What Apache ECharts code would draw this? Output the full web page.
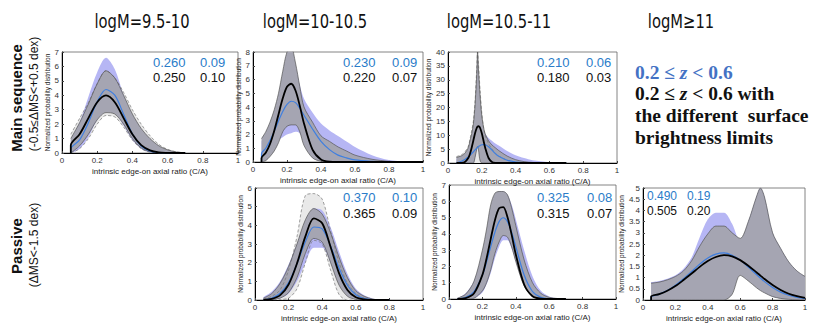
<!DOCTYPE html>
<html>
<head>
<meta charset="utf-8">
<script src="https://cdn.jsdelivr.net/npm/echarts@6.0.0/dist/echarts.min.js"></script>
<style>
    html, body { margin: 0; padding: 0; background: #fff; }
    #main { width: 830px; height: 323px; }
</style>
</head>
<body>
<div id="main"></div>
<script>
// column / row headings and the little numbers in each panel
const columnTitles = ['logM=9.5-10', 'logM=10-10.5', 'logM=10.5-11', 'logM≥11']
const rowTitles = ['Main sequence', 'Passive']
const rowSubTitles = ['(-0.5≤ΔMS<+0.5 dex)', '(ΔMS<-1.5 dex)']
const blueMean = ['0.260', '0.230', '0.210', '0.370', '0.325', '0.490']
const blueWidth = ['0.09', '0.09', '0.06', '0.10', '0.08', '0.19']
const blackMean = ['0.250', '0.220', '0.180', '0.365', '0.315', '0.505']
const blackWidth = ['0.10', '0.07', '0.03', '0.09', '0.07', '0.20']
const yMax = [7, 8, 40, 6, 7, 5]
const yStep = [1, 1, 5, 1, 1, 0.5]

// panel 1 : MS, 9.5-10
const xP1 = [0.05, 0.1, 0.15, 0.2, 0.25, 0.3, 0.35, 0.4, 0.45, 0.5, 0.55, 0.6, 0.65, 0.7]
const p1Black = [0.54, 1.30, 2.42, 3.52, 3.99, 3.52, 2.42, 1.30, 0.54, 0.18, 0.04, 0.01, 0, 0]
const p1Blue = [0.29, 0.91, 2.10, 3.55, 4.40, 4.01, 2.69, 1.32, 0.48, 0.13, 0.03, 0, 0, 0]
const p1DarkLo = [0, 0.5, 1.3, 2.3, 2.8, 2.7, 2.0, 1.0, 0.35, 0.08, 0, 0, 0, 0]
const p1DarkHi = [1.0, 2.1, 3.4, 4.8, 5.7, 5.2, 4.0, 2.7, 1.7, 1.0, 0.5, 0.22, 0.07, 0.01]
const p1BlueLo = [0, 0.3, 1.1, 2.3, 2.9, 2.8, 1.9, 0.9, 0.3, 0.05, 0, 0, 0, 0]
const p1BlueHi = [0.9, 2.1, 3.9, 5.6, 6.6, 5.8, 4.0, 2.4, 1.2, 0.5, 0.2, 0.05, 0, 0]
const p1LightLo = [0, 0.3, 1.0, 2.0, 2.6, 2.5, 1.8, 0.9, 0.3, 0.05, 0, 0, 0, 0]
const p1LightHi = [1.3, 2.4, 3.5, 4.8, 5.7, 5.2, 4.2, 3.0, 2.0, 1.2, 0.6, 0.25, 0.08, 0.02]

// panel 2 : MS, 10-10.5
const xP2 = [0.05, 0.075, 0.1, 0.125, 0.15, 0.175, 0.2, 0.225, 0.25, 0.275, 0.3, 0.35, 0.4, 0.45, 0.5, 0.55, 0.6, 0.7, 0.8, 0.9, 1.0]
const p2Black = [0.3, 0.67, 1.31, 2.27, 3.46, 4.63, 5.47, 5.69, 5.2, 4.1, 2.8, 0.9, 0.18, 0.02, 0, 0, 0, 0, 0, 0, 0]
const p2Blue = [0.6, 1.0, 1.56, 2.24, 2.98, 3.68, 4.19, 4.42, 4.32, 3.91, 3.4, 2.4, 1.5, 0.9, 0.5, 0.3, 0.15, 0.05, 0, 0, 0]
const p2DarkLo = [0, 0.1, 0.4, 0.8, 1.4, 2.2, 2.6, 2.7, 2.7, 2.2, 1.2, 0.3, 0.05, 0, 0, 0, 0, 0, 0, 0, 0]
const p2DarkHi = [1.7, 2.2, 2.9, 3.8, 5.0, 6.6, 8.0, 8.3, 7.2, 5.5, 4.0, 2.9, 1.9, 1.5, 1.1, 0.8, 0.5, 0.2, 0.05, 0, 0]
const p2BlueLo = [0.2, 0.5, 0.9, 1.3, 1.6, 1.8, 2.0, 2.1, 2.2, 2.1, 1.6, 1.0, 0.5, 0.25, 0.1, 0.05, 0, 0, 0, 0, 0]
const p2BlueHi = [1.5, 2.0, 2.7, 3.6, 4.8, 6.3, 7.6, 8.0, 7.0, 5.6, 4.6, 3.6, 2.8, 2.3, 1.9, 1.5, 1.1, 0.5, 0.15, 0.05, 0]

// panel 3 : MS, 10.5-11
const xP3 = [0.05, 0.08, 0.1, 0.12, 0.13, 0.14, 0.15, 0.16, 0.17, 0.175, 0.18, 0.185, 0.19, 0.2, 0.21, 0.22, 0.24, 0.26, 0.28, 0.3, 0.35, 0.4, 0.45, 0.5, 0.6, 0.7]
const p3Black = [0, 0.05, 0.38, 1.8, 3.3, 5.5, 8.1, 10.7, 12.6, 13.1, 13.3, 13.1, 12.6, 10.7, 8.1, 5.5, 1.8, 0.38, 0.05, 0, 0, 0, 0, 0, 0, 0]
const p3Blue = [0.19, 0.64, 1.24, 2.16, 2.73, 3.37, 4.03, 4.70, 5.32, 5.61, 5.87, 6.10, 6.29, 6.56, 6.65, 6.56, 5.87, 4.70, 3.37, 2.4, 1.0, 0.35, 0.1, 0, 0, 0]
const p3DarkLo = [0, 0, 0, 0, 0, 0, 0, 2, 5, 6, 5, 2.5, 0.8, 0, 0, 0, 0, 0, 0, 0, 0, 0, 0, 0, 0, 0]
const p3DarkHi = [2.0, 2.6, 3.5, 5.5, 8, 10.5, 14, 21, 32, 40, 34, 29, 24, 17, 13, 10.5, 8, 6.5, 5.5, 4.5, 2.5, 1.2, 0.5, 0.2, 0, 0]
const p3BlueLo = [0, 0, 0, 0, 0, 0, 0, 2, 5, 6.5, 5.5, 4, 3, 1, 0, 0, 0, 0, 0, 0, 0, 0, 0, 0, 0, 0]
const p3BlueHi = [1.5, 2.4, 3.2, 5, 6.5, 8, 10, 13, 16, 17, 17, 16, 15, 13, 11.5, 10.5, 9, 8, 7, 6.3, 4.3, 2.8, 1.8, 1.0, 0.3, 0]
const p3LightHi = [2.3, 3, 4, 6, 8.5, 11.5, 15, 22, 34, 40, 36, 31, 26, 18, 13, 10, 7, 5, 3.5, 2.5, 1, 0.3, 0.1, 0, 0, 0]

// panel 5 : passive, 10-10.5
const xP5 = [0.05, 0.1, 0.15, 0.2, 0.25, 0.3, 0.35, 0.4, 0.45, 0.5, 0.55, 0.6, 0.65, 0.7, 0.75, 0.8]
const p5Black = [0.01, 0.06, 0.26, 0.83, 1.96, 3.41, 4.37, 4.11, 2.84, 1.44, 0.54, 0.15, 0.03, 0, 0, 0]
const p5Blue = [0.02, 0.1, 0.36, 0.94, 1.94, 3.12, 3.91, 3.81, 2.90, 1.71, 0.79, 0.28, 0.08, 0.02, 0, 0]
const p5DarkLo = [0, 0.02, 0.1, 0.4, 1.2, 2.5, 3.3, 3.1, 2.0, 0.8, 0.2, 0.03, 0, 0, 0, 0]
const p5DarkHi = [0.1, 0.35, 0.9, 1.8, 3.0, 4.3, 4.9, 4.6, 3.6, 2.3, 1.2, 0.5, 0.2, 0.05, 0, 0]
const p5BlueLo = [0, 0.02, 0.1, 0.35, 1.0, 2.0, 2.8, 2.8, 2.0, 0.9, 0.3, 0.08, 0, 0, 0, 0]
const p5BlueHi = [0.15, 0.45, 1.0, 1.9, 3.0, 4.1, 4.9, 4.8, 3.9, 2.6, 1.4, 0.6, 0.25, 0.08, 0.02, 0]
const p5LightLo = [0, 0, 0.02, 0.1, 0.6, 2.0, 3.2, 3.0, 1.6, 0.3, 0, 0, 0, 0, 0, 0]
const p5LightHi = [0.05, 0.2, 0.55, 1.6, 3.4, 5.6, 5.7, 5.4, 3.7, 2.0, 0.9, 0.35, 0.1, 0.03, 0, 0]

// panel 6 : passive, 10.5-11
const xP6 = [0.05, 0.1, 0.15, 0.2, 0.225, 0.25, 0.275, 0.3, 0.325, 0.35, 0.375, 0.4, 0.45, 0.5, 0.55, 0.6, 0.65, 0.7]
const p6Black = [0, 0.05, 0.35, 1.48, 2.49, 3.70, 4.84, 5.57, 5.64, 5.03, 3.95, 2.73, 0.89, 0.17, 0.02, 0, 0, 0]
const p6Blue = [0.01, 0.1, 0.46, 1.47, 2.28, 3.22, 4.10, 4.75, 4.99, 4.75, 4.10, 3.22, 1.47, 0.46, 0.1, 0.01, 0, 0]
const p6DarkLo = [0, 0, 0.05, 0.5, 1.0, 1.8, 2.8, 3.5, 3.9, 3.8, 3.2, 2.3, 0.8, 0.15, 0.02, 0, 0, 0]
const p6DarkHi = [0.05, 0.3, 1.1, 3.0, 4.3, 5.8, 6.5, 6.6, 6.6, 6.4, 5.6, 4.5, 2.4, 1.0, 0.35, 0.1, 0.03, 0]
const p6BlueLo = [0, 0, 0.05, 0.4, 0.9, 1.6, 2.5, 3.2, 3.6, 3.6, 3.1, 2.3, 0.9, 0.2, 0.03, 0, 0, 0]
const p6BlueHi = [0.05, 0.35, 1.1, 2.8, 4.0, 5.3, 6.2, 6.6, 6.6, 6.4, 5.8, 4.9, 3.0, 1.4, 0.5, 0.15, 0.04, 0]

// panel 7 : passive, >=11
const xP7 = [0.05, 0.1, 0.15, 0.2, 0.25, 0.3, 0.35, 0.4, 0.45, 0.5, 0.55, 0.6, 0.65, 0.7, 0.725, 0.75, 0.8, 0.85, 0.9, 0.95, 1.0]
const p7Black = [0.15, 0.26, 0.41, 0.62, 0.89, 1.18, 1.48, 1.74, 1.92, 2.0, 1.95, 1.78, 1.53, 1.24, 1.09, 0.94, 0.67, 0.45, 0.28, 0.17, 0.09]
const p7Blue = [0.14, 0.26, 0.42, 0.66, 0.95, 1.27, 1.60, 1.88, 2.05, 2.10, 2.00, 1.78, 1.47, 1.14, 0.98, 0.82, 0.56, 0.35, 0.21, 0.11, 0.06]
const p7DarkLo = [0, 0, 0, 0, 0, 0, 0, 0, 0, 0, 0.25, 1.1, 0.85, 0.55, 0.42, 0.32, 0.15, 0.07, 0.03, 0.01, 0]
const p7DarkHi = [0.75, 0.8, 0.9, 1.05, 1.3, 1.75, 2.4, 2.95, 3.3, 3.3, 3.0, 2.75, 3.5, 4.6, 5.0, 4.6, 3.0, 2.3, 1.7, 1.3, 1.05]
const p7BlueLo = [0, 0, 0, 0, 0, 0, 0, 0, 0, 0, 0.4, 1.25, 0.95, 0.6, 0.45, 0.35, 0.15, 0.07, 0.03, 0.01, 0]
const p7BlueHi = [0.8, 0.85, 0.95, 1.1, 1.4, 1.9, 2.8, 3.6, 3.9, 3.9, 3.4, 2.6, 3.5, 4.6, 5.0, 4.6, 3.0, 2.3, 1.7, 1.3, 1.05]

const panels = [
    { x: xP1, black: p1Black, blue: p1Blue, dark: [p1DarkLo, p1DarkHi], shade: [p1BlueLo, p1BlueHi], light: [p1LightLo, p1LightHi] },
    { x: xP2, black: p2Black, blue: p2Blue, dark: [p2DarkLo, p2DarkHi], shade: [p2BlueLo, p2BlueHi] },
    { x: xP3, black: p3Black, blue: p3Blue, dark: [p3DarkLo, p3DarkHi], shade: [p3BlueLo, p3BlueHi], light: [[], p3LightHi] },
    { x: xP5, black: p5Black, blue: p5Blue, dark: [p5DarkLo, p5DarkHi], shade: [p5BlueLo, p5BlueHi], light: [p5LightLo, p5LightHi] },
    { x: xP6, black: p6Black, blue: p6Blue, dark: [p6DarkLo, p6DarkHi], shade: [p6BlueLo, p6BlueHi] },
    { x: xP7, black: p7Black, blue: p7Blue, dark: [p7DarkLo, p7DarkHi], shade: [p7BlueLo, p7BlueHi] }
]

// layout
const grids = [
    { left: 62, top: 52, width: 176, height: 101 },
    { left: 253, top: 52, width: 170, height: 110 },
    { left: 448, top: 52, width: 169, height: 111 },
    { left: 255, top: 188, width: 168, height: 112 },
    { left: 449, top: 185, width: 167, height: 114 },
    { left: 643, top: 188, width: 162, height: 112 }
]
const statPos = [
    [153, 200, 62, 77],
    [343, 392, 62, 77],
    [537, 586, 62, 77],
    [343, 392, 197, 213],
    [537, 587, 197, 213],
    [647, 687, 196, 211]
]
const titleX = [142, 315, 499, 681]

const SANS = '"Liberation Sans", Arial, sans-serif'
const NARROW = '"Liberation Sans Narrow", "DejaVu Sans Condensed", "Liberation Sans", sans-serif'
const SERIF = '"Liberation Serif", "DejaVu Serif", serif'
const BLUE_TXT = '#2a7cc9'

const lineCommon = {
    type: 'line',
    symbol: 'none',
    smooth: 0.3,
    silent: true,
    animation: false
}

// bands are stacked pairs: the y value sits first in each item so the stack runs on y
const band = (gi, xs, lo, hi, fill, edge, key) => {
    const base = hi.map((_, i) => [lo[i] || 0, xs[i]])
    const spread = hi.map((h, i) => [h - (lo[i] || 0), xs[i]])
    const loEdge = lo.length ? edge : { width: 0 }
    const common = { ...lineCommon, xAxisIndex: gi, yAxisIndex: gi, stack: key, encode: { x: 1, y: 0 } }
    return [
        { ...common, data: base, lineStyle: loEdge },
        { ...common, data: spread, lineStyle: edge, areaStyle: { color: fill, opacity: 1 } }
    ]
}

const curve = (gi, xs, ys, color, width) => ({
    ...lineCommon,
    xAxisIndex: gi,
    yAxisIndex: gi,
    data: [[xs[0], 0]].concat(ys.map((y, i) => [xs[i], y])),
    lineStyle: { color, width }
})

const series = []
panels.forEach((p, gi) => {
    if (p.light) {
        series.push(...band(gi, p.x, p.light[0], p.light[1], '#e9e9e9', { color: '#777', width: 0.7, type: [3, 2] }, 'light' + gi))
    }
    series.push(...band(gi, p.x, p.shade[0], p.shade[1], '#b6b6f4', { width: 0 }, 'shade' + gi))
    series.push(...band(gi, p.x, p.dark[0], p.dark[1], '#a5a5b2', { color: '#555', width: 0.7 }, 'dark' + gi))
    series.push(curve(gi, p.x, p.blue, '#3f7fe0', 1.2))
    series.push(curve(gi, p.x, p.black, '#000', 1.8))
})

const xAxis = grids.map((g, i) => ({
    type: 'value',
    gridIndex: i,
    min: 0,
    max: 1,
    interval: 0.2,
    name: 'intrinsic edge-on axial ratio (C/A)',
    nameLocation: 'middle',
    nameGap: 14,
    nameTextStyle: { fontSize: 8, color: '#222', fontFamily: SANS },
    axisLine: { onZero: false, lineStyle: { color: '#000', width: 1 } },
    axisTick: { inside: true, length: 2, lineStyle: { color: '#444' } },
    axisLabel: { fontSize: 8, color: '#333', margin: 3, fontFamily: SANS },
    splitLine: { show: false }
}))

const yAxis = grids.map((g, i) => ({
    type: 'value',
    gridIndex: i,
    min: 0,
    max: yMax[i],
    interval: yStep[i],
    name: 'Normalized probability distribution',
    nameLocation: 'middle',
    nameRotate: 90,
    nameGap: (i === 2 || i === 5) ? 14 : 10,
    nameTextStyle: { fontSize: 6.5, color: '#222', fontFamily: SANS },
    axisLine: { onZero: false, lineStyle: { color: '#000', width: 1 } },
    axisTick: { inside: true, length: 2, lineStyle: { color: '#444' } },
    axisLabel: { fontSize: 8, color: '#333', margin: 3, fontFamily: SANS },
    splitLine: { show: false }
}))

const graphic = []
columnTitles.forEach((t, i) => {
    graphic.push({
        type: 'text', x: titleX[i], y: 21, scaleX: 0.82,
        style: { text: t, font: '20px ' + NARROW, fill: '#111', textAlign: 'center', textVerticalAlign: 'middle' }
    })
})
const rowY = [98, 246]
const subY = [94, 245]
rowTitles.forEach((t, i) => {
    graphic.push({
        type: 'text', x: 16, y: rowY[i], rotation: Math.PI / 2,
        style: { text: t, font: 'bold 15px ' + SANS, fill: '#111', textAlign: 'center', textVerticalAlign: 'middle' }
    })
    graphic.push({
        type: 'text', x: 34, y: subY[i], rotation: Math.PI / 2,
        style: { text: rowSubTitles[i], font: '12px ' + SANS, fill: '#111', textAlign: 'center', textVerticalAlign: 'middle' }
    })
})
statPos.forEach((s, i) => {
    const size = i === 5 ? 12 : 13
    const rows = [[blueMean[i], blueWidth[i], BLUE_TXT, s[2]], [blackMean[i], blackWidth[i], '#111', s[3]]]
    rows.forEach(r => {
        graphic.push({ type: 'text', x: s[0], y: r[3], style: { text: r[0], font: size + 'px ' + SANS, fill: r[2], textVerticalAlign: 'middle' } })
        graphic.push({ type: 'text', x: s[1], y: r[3], style: { text: r[1], font: size + 'px ' + SANS, fill: r[2], textVerticalAlign: 'middle' } })
    })
})

// note in the empty top-right slot
const noteLines = [
    { text: '{a|0.2 ≤ }{i|z}{a| < 0.6}', fill: '#4472c4', y: 72 },
    { text: '{a|0.2 ≤ }{i|z}{a| < 0.6 with}', fill: '#111', y: 93 },
    { text: '{a|the different  surface}', fill: '#111', y: 115 },
    { text: '{a|brightness limits}', fill: '#111', y: 137 }
]
noteLines.forEach(l => {
    graphic.push({
        type: 'text', x: 635, y: l.y,
        style: {
            text: l.text,
            fill: l.fill,
            textVerticalAlign: 'middle',
            rich: {
                a: { font: 'bold 19.5px ' + SERIF, fill: l.fill },
                i: { font: 'italic bold 19.5px ' + SERIF, fill: l.fill }
            }
        }
    })
})

const chart = echarts.init(document.getElementById('main'), null, { renderer: 'svg' })
chart.setOption({
    animation: false,
    backgroundColor: '#fff',
    textStyle: { fontFamily: SANS },
    grid: grids.map(g => ({ ...g, show: true, borderColor: '#666', borderWidth: 0.8, backgroundColor: 'transparent' })),
    xAxis,
    yAxis,
    series,
    graphic
})
</script>
</body>
</html>
